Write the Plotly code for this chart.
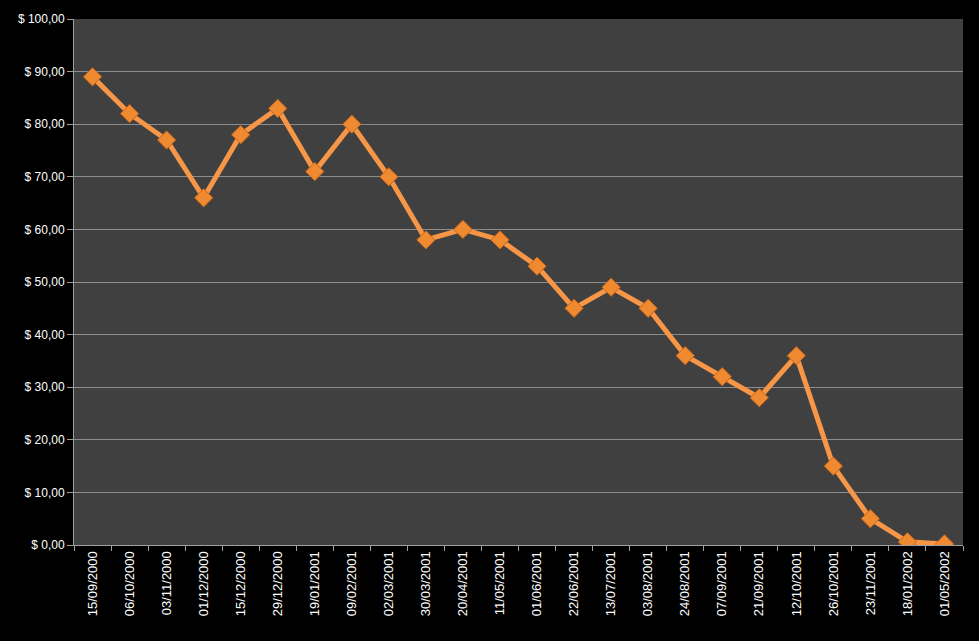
import plotly.graph_objects as go

dates = ["15/09/2000", "06/10/2000", "03/11/2000", "01/12/2000", "15/12/2000", "29/12/2000",
         "19/01/2001", "09/02/2001", "02/03/2001", "30/03/2001", "20/04/2001", "11/05/2001",
         "01/06/2001", "22/06/2001", "13/07/2001", "03/08/2001", "24/08/2001", "07/09/2001",
         "21/09/2001", "12/10/2001", "26/10/2001", "23/11/2001", "18/01/2002", "01/05/2002"]
prices = [89, 82, 77, 66, 78, 83, 71, 80, 70, 58, 60, 58, 53, 45, 49, 45, 36, 32, 28, 36,
          15, 5, 0.6, 0.2]
y_ticks = [0, 10, 20, 30, 40, 50, 60, 70, 80, 90, 100]
y_labels = ["$ %d,00" % v for v in y_ticks]

fig = go.Figure()
fig.add_trace(go.Scatter(
    x=dates, y=prices, mode="lines+markers",
    line=dict(color="#F79646", width=5),
    marker=dict(symbol="diamond", size=14, color="#F08A30",
                line=dict(color="#C8661A", width=1)),
    showlegend=False, hoverinfo="x+y",
))

fig.update_layout(
    width=979, height=641,
    margin=dict(l=74, r=16, t=12, b=96),
    paper_bgcolor="#000000", plot_bgcolor="#404040",
    font=dict(family="Liberation Sans, Arial, sans-serif", size=12, color="#FFFFFF"),
    xaxis=dict(
        type="category", tickangle=-90, tickson="boundaries",
        ticks="outside", ticklen=5, tickcolor="#A0A0A0",
        showline=True, linecolor="#A0A0A0", linewidth=1,
        showgrid=False, tickfont=dict(size=13, color="#FFFFFF"),
        range=[-0.5, len(dates) - 0.5],
    ),
    yaxis=dict(
        range=[0, 100], tickvals=y_ticks, ticktext=y_labels,
        ticks="outside", ticklen=6, tickcolor="#A0A0A0",
        showline=True, linecolor="#A0A0A0", linewidth=1,
        showgrid=True, gridcolor="#8C8C8C", gridwidth=1,
        zeroline=False, tickfont=dict(size=12, color="#FFFFFF"),
    ),
)

fig.write_html("out.html", config={"displayModeBar": False},
               post_script="document.body.style.margin='0';document.body.style.background='#000';")
